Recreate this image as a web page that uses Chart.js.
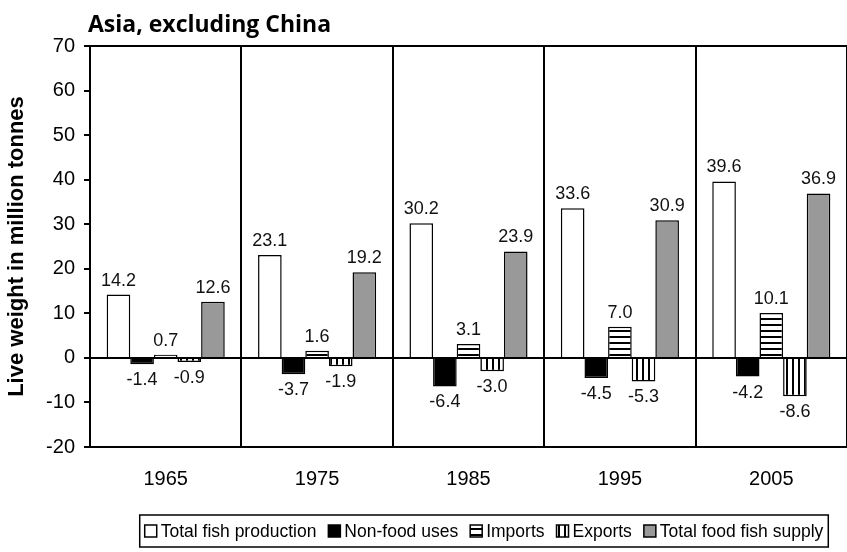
<!DOCTYPE html>
<html>
<head>
<meta charset="utf-8">
<script src="https://cdn.jsdelivr.net/npm/chart.js@4/dist/chart.umd.min.js"></script>
<style>
  html, body { margin: 0; padding: 0; background: #fff; }
  #wrap { width: 847px; height: 552px; position: relative; }
</style>
</head>
<body>
<div id="wrap"><canvas id="chart"></canvas></div>
<script>
// values (million tonnes, live weight)
const years = ['1965', '1975', '1985', '1995', '2005'];
const totalProduction = [14.2, 23.1, 30.2, 33.6, 39.6];
const nonFoodUses = [-1.4, -3.7, -6.4, -4.5, -4.2];
const imports = [0.7, 1.6, 3.1, 7.0, 10.1];
const exports = [-0.9, -1.9, -3.0, -5.3, -8.6];
const foodSupply = [12.6, 19.2, 23.9, 30.9, 36.9];
const seriesNames = ['Total fish production', 'Non-food uses', 'Imports', 'Exports', 'Total food fish supply'];

const FONT = "'Liberation Sans', Arial, sans-serif";

// stripe fills for imports / exports
function stripes(horizontal) {
    const c = document.createElement('canvas');
    c.width = 6; c.height = 6;
    const g = c.getContext('2d');
    g.fillStyle = '#fff';
    g.fillRect(0, 0, 6, 6);
    g.fillStyle = '#000';
    if (horizontal) g.fillRect(0, 0, 6, 2);
    else g.fillRect(0, 0, 2, 6);
    return g.createPattern(c, 'repeat');
}

// numbers on top of / under each bar
const valueLabels = {
    id: 'valueLabels',
    afterDatasetsDraw(chart) {
        const ctx = chart.ctx;
        ctx.save();
        ctx.font = '18px ' + FONT;
        ctx.fillStyle = '#111';
        ctx.textAlign = 'center';
        chart.data.datasets.forEach((ds, i) => {
            chart.getDatasetMeta(i).data.forEach((bar, j) => {
                const v = ds.data[j];
                if (v >= 0) {
                    ctx.textBaseline = 'bottom';
                    ctx.fillText(v.toFixed(1), bar.x, bar.y - 5);
                } else {
                    ctx.textBaseline = 'top';
                    ctx.fillText(v.toFixed(1), bar.x, bar.y + 7);
                }
            });
        });
        ctx.restore();
    }
};

// heading and the framed legend underneath
const extras = {
    id: 'extras',
    afterDraw(chart) {
        const ctx = chart.ctx;
        ctx.save();
        ctx.font = "bold 23px 'Open Sans', sans-serif";
        ctx.fillStyle = '#000';
        ctx.textAlign = 'left';
        ctx.textBaseline = 'alphabetic';
        ctx.fillText('Asia, excluding China', 88, 32);

        // legend
        ctx.font = '17.5px ' + FONT;
        const box = 12, gap = 4, itemGap = 12;
        const widths = chart.data.datasets.map(ds => ctx.measureText(ds.label).width);
        const total = widths.reduce((a, w) => a + box + gap + w, 0) + itemGap * (widths.length - 1);
        const cy = 531;
        let x = 484 - total / 2;
        ctx.strokeStyle = '#000';
        ctx.lineWidth = 1.5;
        ctx.strokeRect(x - 5, 515, total + 10, 32);
        ctx.textBaseline = 'middle';
        chart.data.datasets.forEach((ds, i) => {
            ctx.fillStyle = ds.backgroundColor;
            ctx.fillRect(x, cy - box / 2, box, box);
            ctx.lineWidth = 1.5;
            ctx.strokeRect(x, cy - box / 2, box, box);
            ctx.fillStyle = '#000';
            ctx.fillText(ds.label, x + box + gap, cy + 1);
            x += box + gap + widths[i] + itemGap;
        });
        ctx.restore();
    }
};

const fills = ['#ffffff', '#000000', stripes(true), stripes(false), '#999999'];
const seriesValues = [totalProduction, nonFoodUses, imports, exports, foodSupply];

new Chart(document.getElementById('chart'), {
    type: 'bar',
    data: {
        labels: years,
        datasets: seriesValues.map((vals, i) => ({
            label: seriesNames[i],
            data: vals,
            backgroundColor: fills[i],
            borderColor: '#000',
            borderWidth: 1.5,
            barPercentage: 1,
            categoryPercentage: 0.78
        }))
    },
    options: {
        responsive: true,
        maintainAspectRatio: false,
        animation: false,
        layout: { padding: { top: 46, right: 0, bottom: 40, left: 0 } },
        plugins: {
            legend: { display: false },
            tooltip: { enabled: false }
        },
        scales: {
            x: {
                afterFit: scale => { scale.height = 65; },
                grid: { color: '#000', lineWidth: 2, drawTicks: false, offset: true },
                border: { color: '#000', width: 2 },
                ticks: { color: '#000', font: { family: FONT, size: 20 }, padding: 20 }
            },
            y: {
                min: -20,
                max: 70,
                afterFit: scale => { scale.width = 90; },
                grid: {
                    color: c => (c.tick && (c.tick.value === 0 || c.tick.value === 70)) ? '#000' : 'rgba(0,0,0,0)',
                    lineWidth: 2,
                    tickColor: '#000',
                    tickLength: 6,
                    tickWidth: 2
                },
                border: { color: '#000', width: 2 },
                ticks: { stepSize: 10, color: '#000', font: { family: FONT, size: 20 }, padding: 9 },
                title: {
                    display: true,
                    text: 'Live weight in million tonnes',
                    color: '#000',
                    font: { family: FONT, size: 22, weight: 'bold' },
                    padding: { top: 4, bottom: 0 }
                }
            }
        }
    },
    plugins: [valueLabels, extras]
});
</script>
</body>
</html>
